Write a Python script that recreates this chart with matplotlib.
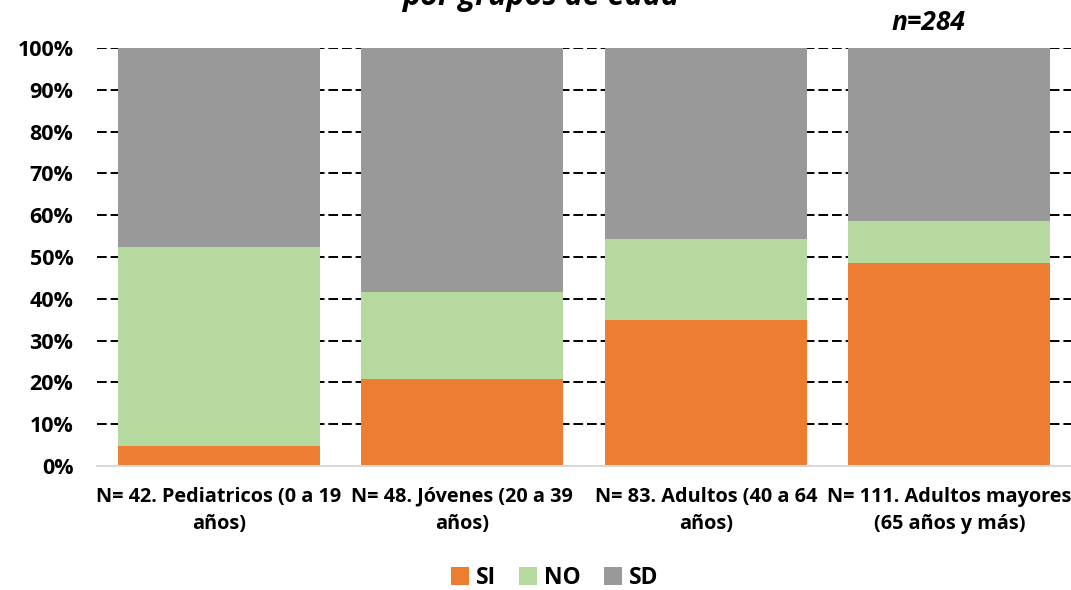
import matplotlib.pyplot as plt
from matplotlib.ticker import PercentFormatter

categories = [
    "N= 42. Pediatricos (0 a 19\naños)",
    "N= 48. Jóvenes (20 a 39\naños)",
    "N= 83. Adultos (40 a 64\naños)",
    "N= 111. Adultos mayores\n(65 años y más)",
]
si = [4.76, 20.83, 34.94, 48.65]
no = [47.62, 20.83, 19.28, 9.91]
sd = [47.62, 58.33, 45.78, 41.44]

colors = {"SI": "#ED7D31", "NO": "#B6D9A0", "SD": "#999999"}
font = "Open Sans"


def main():
    fig = plt.figure(figsize=(10.71, 5.90), dpi=100)
    ax = fig.add_axes([0.0906, 0.2102, 0.9094, 0.7084])

    x = range(len(categories))
    w = 0.83
    bottom_no = si
    bottom_sd = [a + b for a, b in zip(si, no)]
    ax.bar(x, si, w, color=colors["SI"], label="SI", zorder=2)
    ax.bar(x, no, w, bottom=bottom_no, color=colors["NO"], label="NO", zorder=2)
    ax.bar(x, sd, w, bottom=bottom_sd, color=colors["SD"], label="SD", zorder=2)

    ax.set_xlim(-0.5, 3.5)
    ax.set_ylim(0, 100)
    ax.set_yticks(range(0, 101, 10))
    ax.yaxis.set_major_formatter(PercentFormatter(decimals=0))
    ax.grid(axis="y", color="black", linestyle=(0, (5, 2)), linewidth=1.4, zorder=1)
    ax.set_axisbelow(True)
    for s in ["top", "right", "left"]:
        ax.spines[s].set_visible(False)
    ax.spines["bottom"].set_color("#D9D9D9")
    ax.spines["bottom"].set_linewidth(1.5)
    ax.tick_params(axis="both", length=0)
    ax.tick_params(axis="y", pad=17)
    ax.tick_params(axis="x", pad=15)
    ax.set_xticks(list(x))
    ax.set_xticklabels(categories, fontsize=14.3, fontweight="bold", family=font,
                       linespacing=1.5)
    for t in ax.get_yticklabels():
        t.set_fontsize(15.5)
        t.set_fontweight("bold")
        t.set_family(font)

    fig.text(0.505, 0.992, "por grupos de edad", ha="center", va="baseline",
             fontsize=22, fontweight="bold", style="italic", family=font)
    fig.text(0.867, 0.962, "n=284", ha="center", va="center",
             fontsize=19, fontweight="bold", style="italic", family=font)

    fig.legend(loc="center", bbox_to_anchor=(0.518, 0.02), ncol=3,
               frameon=False, handlelength=0.8, handleheight=0.8,
               handletextpad=0.3, columnspacing=1.0,
               prop={"family": font, "weight": "bold", "size": 16.5})
    fig.savefig("out.png", dpi=100)


if __name__ == "__main__":
    main()
